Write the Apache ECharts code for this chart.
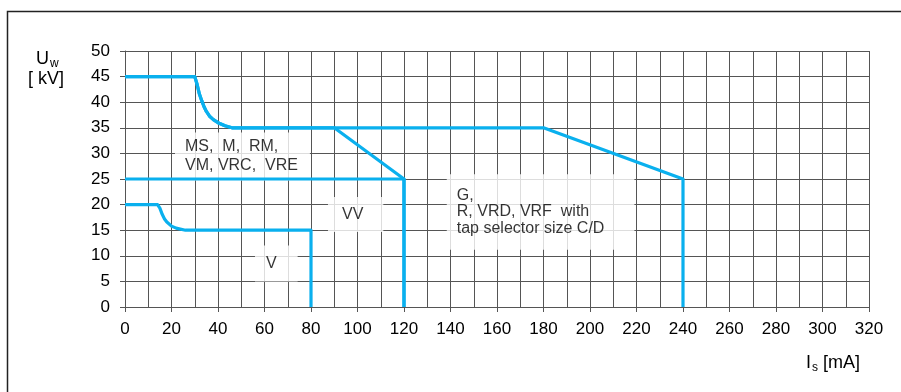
<!DOCTYPE html>
<html>
<head>
<meta charset="utf-8">
<script src="https://cdn.jsdelivr.net/npm/echarts@6/dist/echarts.min.js"></script>
<style>
html,body{margin:0;padding:0;background:#fff;}
#c{width:901px;height:392px;}
</style>
</head>
<body>
<div id="c"></div>
<script>
// Data (current Is in mA, voltage Uw in kV)
const seriesMS = [[0,25],[120,25],[120,0]];
const seriesVV = [[0,45],[30,45],[31,43.5],[32,41.6],[33,40.3],[34,39.1],[35,38.2],[36.5,37.2],[38,36.6],[40,36],[43,35.4],[46,35],[90,35],[120,25],[120,0]];
const seriesG  = [[0,45],[30,45],[31,43.5],[32,41.6],[33,40.3],[34,39.1],[35,38.2],[36.5,37.2],[38,36.6],[40,36],[43,35.4],[46,35],[180,35],[240,25],[240,0]];
const seriesV  = [[0,20],[14,20],[15,19.3],[16,18.1],[17,17.2],[18,16.6],[20,15.8],[22,15.4],[26,15],[80,15],[80,0]];
const annotationTexts = ['MS,  M,  RM,\nVM, VRC,  VRE', 'VV', 'V', 'G,\nR, VRD, VRF  with\ntap selector size C/D'];
const annotationAnchors = [[21.5,29.4],[87.3,18.07],[55.9,8.5],[138.4,18.55]];
const xRange = [0, 320];
const yRange = [0, 50];

const BLUE = '#0AB0EE';
const GRIDC = '#555';
const FONT = '"Liberation Sans", Arial, sans-serif';

const chart = echarts.init(document.getElementById('c'), null, {renderer:'canvas'});

const lineSeries = (name, data) => ({
  name, type:'line', data, symbol:'none', smooth:false, clip:false,
  lineStyle:{color:BLUE, width:3.2, join:'round', cap:'butt'}, z:5, animation:false
});

const labelStyles = [
  {padding:[5,12,5,10], lineHeight:19},
  {padding:[10,20,7,14], lineHeight:18},
  {padding:[14,21,4,11], lineHeight:18},
  {padding:[12,30,14,10], lineHeight:16.5}
];

chart.setOption({
  animation:false,
  backgroundColor:'#fff',
  grid:{left:125, top:51, width:744, height:256, containLabel:false},
  xAxis:{
    type:'value', min:xRange[0], max:xRange[1], interval:20,
    axisLine:{show:true, lineStyle:{color:GRIDC, width:1}},
    axisTick:{show:true, length:5, lineStyle:{color:GRIDC}},
    axisLabel:{color:'#000', fontSize:17, fontFamily:FONT, margin:14},
    splitLine:{show:true, lineStyle:{color:GRIDC, width:1}},
    minorTick:{show:false, splitNumber:2},
    minorSplitLine:{show:true, lineStyle:{color:GRIDC, width:1}}
  },
  yAxis:{
    type:'value', min:yRange[0], max:yRange[1], interval:5,
    axisLine:{show:true, lineStyle:{color:GRIDC, width:1}},
    axisTick:{show:true, length:5, lineStyle:{color:GRIDC}},
    axisLabel:{color:'#000', fontSize:17, fontFamily:FONT, margin:15},
    splitLine:{show:true, lineStyle:{color:GRIDC, width:1}}
  },
  series:[
    lineSeries('MS', seriesMS),
    lineSeries('VV', seriesVV),
    lineSeries('G', seriesG),
    lineSeries('V', seriesV),
    {
      type:'scatter', symbolSize:0, silent:true, z:4, animation:false,
      data: annotationAnchors.map((p,i)=>({
        value:p, name:annotationTexts[i],
        label:labelStyles[i]
      })),
      label:{
        show:true, position:'right', distance:0,
        formatter:(p)=>p.name,
        color:'#000', fontSize:16, fontFamily:FONT,
        align:'left', backgroundColor:'#fff'
      }
    }
  ],
  graphic:[
    {type:'polyline', shape:{points:[[7.5,392],[7.5,11.5],[901,11.5]]}, style:{stroke:'#222', lineWidth:1.5, fill:null}, silent:true},
    {type:'text', left:36, top:50, style:{
      text:'{a|U}{s|w}', rich:{a:{fontSize:18, fontFamily:FONT, fill:'#000'}, s:{fontSize:12, fontFamily:FONT, fill:'#000', padding:[10,0,0,1]}}
    }},
    {type:'text', left:28, top:70, style:{text:'[ kV]', fontSize:18, fontFamily:FONT, fill:'#000'}},
    {type:'text', left:806, top:354, style:{
      text:'{a|I}{s|s}{a| [mA]}', rich:{a:{fontSize:18, fontFamily:FONT, fill:'#000'}, s:{fontSize:12, fontFamily:FONT, fill:'#000', padding:[10,0,0,1]}}
    }}
  ]
});
</script>
</body>
</html>
